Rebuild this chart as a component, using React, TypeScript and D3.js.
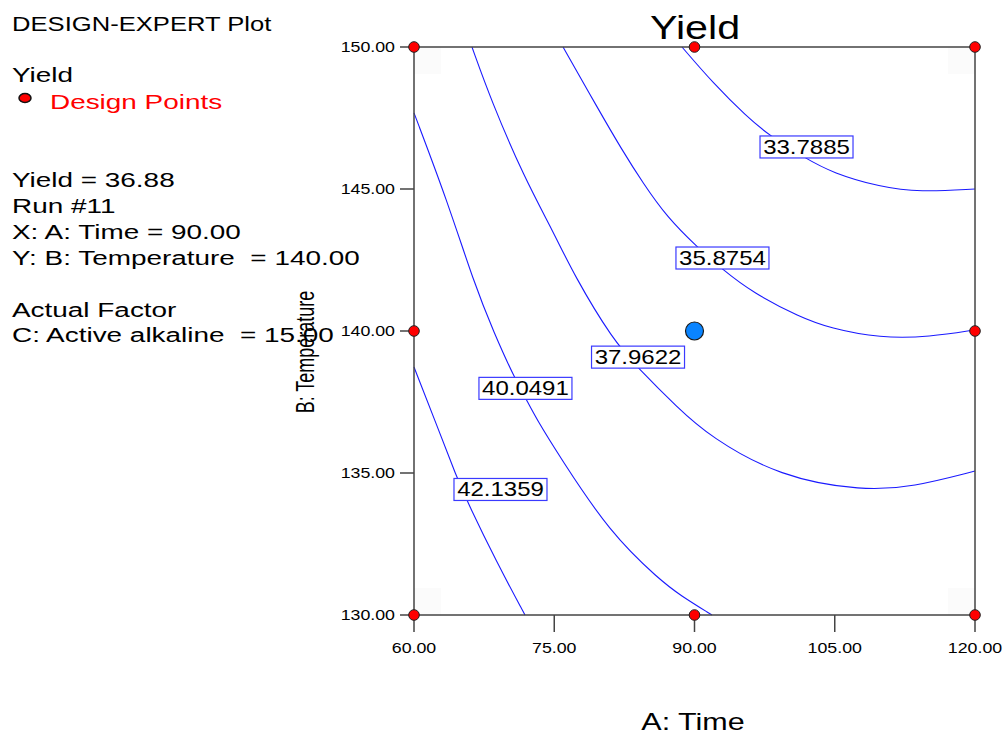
import React from "react";
import * as d3 from "d3";

// axis ticks
const timeTicks = [60, 75, 90, 105, 120];
const tempTicks = [130, 135, 140, 145, 150];

// contour levels as [time, temperature]
const contourLevels = ["33.7885", "35.8754", "37.9622", "40.0491", "42.1359"];
const contour33 = [[88.66, 150], [91.98, 148.73], [95.61, 147.54], [98.07, 146.87], [101.82, 146.09], [104.81, 145.56], [109.84, 145.07], [114.12, 144.89], [120, 145.0]];
const contour35 = [[75.94, 150], [79.57, 147.89], [82.25, 146.37], [84.49, 145.21], [87.06, 144.01], [90.27, 142.96], [92.94, 142.18], [96.26, 141.34], [101.28, 140.49], [104.5, 140.1], [109.84, 139.75], [115.19, 139.79], [120, 140.04]];
const contour37 = [[66.2, 150], [68.24, 148.13], [71.76, 145.42], [74.97, 143.45], [77.11, 141.97], [81.28, 139.68], [83.96, 138.7], [88.13, 137.32], [91.66, 136.27], [99.14, 134.86], [108.02, 134.37], [113.37, 134.51], [120, 135.07]];
const contour40 = [[60, 147.68], [63.53, 144.61], [66.42, 141.69], [68.56, 139.93], [70.7, 138.38], [71.98, 137.61], [73.15, 136.87], [75.61, 135.56], [80.96, 132.89], [86.31, 131.23], [88.45, 130.7], [91.87, 130]];
const contour42 = [[60, 138.73], [62.3, 136.8], [64.6, 134.82], [65.67, 134.01], [68.88, 131.83], [71.87, 130]];
const contours = [contour33, contour35, contour37, contour40, contour42];

// where each level label box sits
const labelTimes = [101.98, 92.99, 83.96, 71.92, 69.25];
const labelTemps = [146.48, 142.57, 139.08, 137.98, 134.42];

// design points
const designTimes = [60, 90, 120, 60, 120, 60, 90, 120];
const designTemps = [150, 150, 150, 140, 140, 130, 130, 130];
const selectedPoint = [90, 140];

const infoLines = [
  "Yield = 36.88",
  "Run #11",
  "X: A: Time = 90.00",
  "Y: B: Temperature  = 140.00",
];
const factorLines = ["Actual Factor", "C: Active alkaline  = 15.00"];

const FONT = "Arial, 'Liberation Sans', sans-serif";

// the original text is stretched sideways
function Wide({ x, y, sx = 1.28, size, anchor = "start", fill = "#000", rotate = 0, children }: any) {
  return (
    <text
      transform={`translate(${x},${y}) scale(${sx},1)${rotate ? ` rotate(${rotate})` : ""}`}
      fontSize={size}
      fontFamily={FONT}
      textAnchor={anchor}
      fill={fill}
      style={{ whiteSpace: "pre" }}
    >
      {children}
    </text>
  );
}

export default function App() {
  const x = d3.scaleLinear().domain([60, 120]).range([414, 975]);
  const y = d3.scaleLinear().domain([130, 150]).range([615, 47]);

  const lineGen = d3
    .line<number[]>()
    .x((d) => x(d[0]))
    .y((d) => y(d[1]))
    .curve(d3.curveBasis);

  const [x0, x1] = x.range();
  const [y0, y1] = y.range();
  const corner = 27;

  return (
    <svg
      width={1008}
      height={735}
      style={{ position: "absolute", left: 0, top: 0, background: "#fff" }}
    >
      {/* faint corner shading */}
      {[
        [x0, y1],
        [x1 - corner, y1],
        [x0, y0 - corner],
        [x1 - corner, y0 - corner],
      ].map((c, i) => (
        <rect key={i} x={c[0]} y={c[1]} width={corner} height={corner} fill="#fbfbfb" />
      ))}

      {/* contour lines */}
      {contours.map((c, i) => (
        <path key={i} d={lineGen(c as any) || ""} fill="none" stroke="#1a1aff" strokeWidth={1.1} />
      ))}

      {/* frame */}
      <rect x={x0} y={y1} width={x1 - x0} height={y0 - y1} fill="none" stroke="#444" strokeWidth={1.5} />

      {/* y ticks */}
      {tempTicks.map((t) => (
        <g key={t}>
          <line x1={400} x2={x0} y1={y(t)} y2={y(t)} stroke="#444" strokeWidth={1.5} />
          <Wide x={395} y={y(t) + 5} size={14} sx={1.27} anchor="end">
            {t.toFixed(2)}
          </Wide>
        </g>
      ))}

      {/* x ticks */}
      {timeTicks.map((t) => (
        <g key={t}>
          <line x1={x(t)} x2={x(t)} y1={y0} y2={y0 + 17} stroke="#444" strokeWidth={1.5} />
          <Wide x={x(t)} y={653} size={14} sx={1.27} anchor="middle">
            {t.toFixed(2)}
          </Wide>
        </g>
      ))}

      {/* contour labels */}
      {contourLevels.map((lbl, i) => {
        const cx = x(labelTimes[i]);
        const cy = y(labelTemps[i]);
        return (
          <g key={lbl}>
            <rect x={cx - 46.5} y={cy - 11} width={93} height={22} fill="#fff" stroke="#3a3aff" strokeWidth={1.2} />
            <Wide x={cx} y={cy + 7} size={20} sx={1.2} anchor="middle">
              {lbl}
            </Wide>
          </g>
        );
      })}

      {/* design points */}
      {designTimes.map((t, i) => (
        <circle key={i} cx={x(t)} cy={y(designTemps[i])} r={5.3} fill="#ff0000" stroke="#222" strokeWidth={1} />
      ))}
      <circle cx={x(selectedPoint[0])} cy={y(selectedPoint[1])} r={9} fill="#0a84ff" stroke="#1a1a1a" strokeWidth={1.2} />

      {/* title and axis titles */}
      <Wide x={695} y={39} size={33} sx={1.25} anchor="middle">
        Yield
      </Wide>
      <Wide x={693} y={730} size={24} sx={1.27} anchor="middle">
        A: Time
      </Wide>
      <Wide x={314} y={352} size={18} sx={1.45} anchor="middle" rotate={-90}>
        B: Temperature
      </Wide>

      {/* left panel */}
      <Wide x={12} y={31} size={20} sx={1.28}>
        DESIGN-EXPERT Plot
      </Wide>
      <Wide x={12} y={82} size={21} sx={1.33}>
        Yield
      </Wide>
      <ellipse cx={25} cy={98} rx={6} ry={4.5} fill="#ff0000" stroke="#111" strokeWidth={1.5} />
      <Wide x={50} y={109} size={21} sx={1.33} fill="#ff0000">
        Design Points
      </Wide>
      {infoLines.map((s, i) => (
        <Wide key={s} x={12} y={187 + i * 26} size={21} sx={1.33}>
          {s}
        </Wide>
      ))}
      {factorLines.map((s, i) => (
        <Wide key={s} x={12} y={317 + i * 25} size={21} sx={1.33}>
          {s}
        </Wide>
      ))}
    </svg>
  );
}
